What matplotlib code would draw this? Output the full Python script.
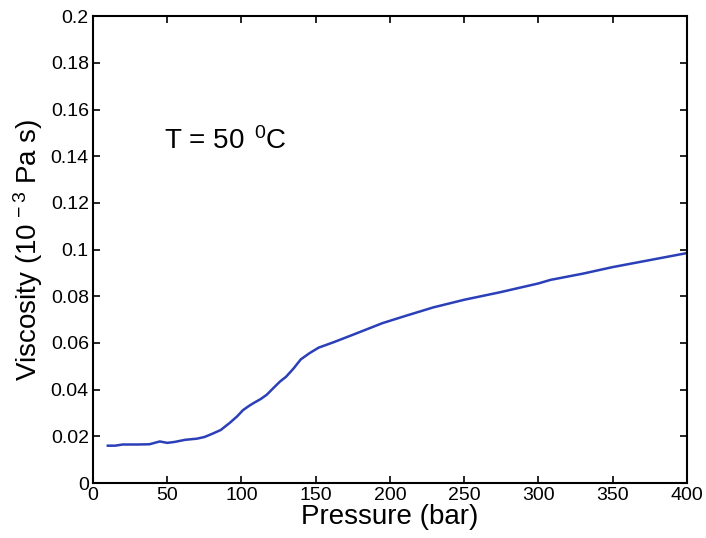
import matplotlib.pyplot as plt
import numpy as np

plt.rcParams['font.family'] = ['Liberation Sans', 'DejaVu Sans']
plt.rcParams['mathtext.fontset'] = 'custom'
plt.rcParams['mathtext.rm'] = 'Liberation Sans'
plt.rcParams['mathtext.it'] = 'Liberation Sans'

# viscosity vs pressure
pressure = [10, 15, 20, 30, 38, 45, 50, 55, 62, 70, 75, 80, 86, 92, 97, 101, 105,
            108, 113, 117, 122, 126, 130, 135, 140, 146, 152, 162, 175, 195, 210,
            229, 250, 274, 300, 308, 330, 350, 375, 400]
viscosity = [0.0160, 0.0160, 0.0165, 0.0165, 0.0166, 0.0178, 0.0172, 0.0176, 0.0185,
             0.0190, 0.0197, 0.0210, 0.0227, 0.0257, 0.0285, 0.0312, 0.0330,
             0.0342, 0.0360, 0.0378, 0.0410, 0.0435, 0.0455, 0.0490, 0.0530,
             0.0557, 0.0580, 0.0603, 0.0635, 0.0685, 0.0715, 0.0752, 0.0785,
             0.0817, 0.0855, 0.0870, 0.0897, 0.0925, 0.0955, 0.0985]

fig = plt.figure(figsize=(7.06, 5.38), dpi=100)
ax = fig.add_axes([0.1317, 0.1022, 0.8413, 0.8678])
ax.plot(pressure, viscosity, color='#2a3fb8', linewidth=1.8)

ax.set_xlim(0, 400)
ax.set_ylim(0, 0.2)
ax.set_xticks(np.arange(0, 401, 50))
ax.set_yticks(np.arange(0, 0.201, 0.02))
ax.set_yticklabels(['0', '0.02', '0.04', '0.06', '0.08', '0.1', '0.12', '0.14',
                    '0.16', '0.18', '0.2'])
ax.tick_params(direction='in', top=True, right=True, labelsize=14, length=5,
               width=1.2, pad=3)
for s in ax.spines.values():
    s.set_linewidth(1.5)

ax.set_xlabel('Pressure (bar)', fontsize=20, labelpad=0)
ax.set_ylabel('Viscosity (10$^{\\,-3}$ Pa s)', fontsize=20, labelpad=4)
ax.text(48, 0.143, 'T = 50 $^{\\,0}$C', fontsize=20)

fig.savefig('out.png', dpi=100)
